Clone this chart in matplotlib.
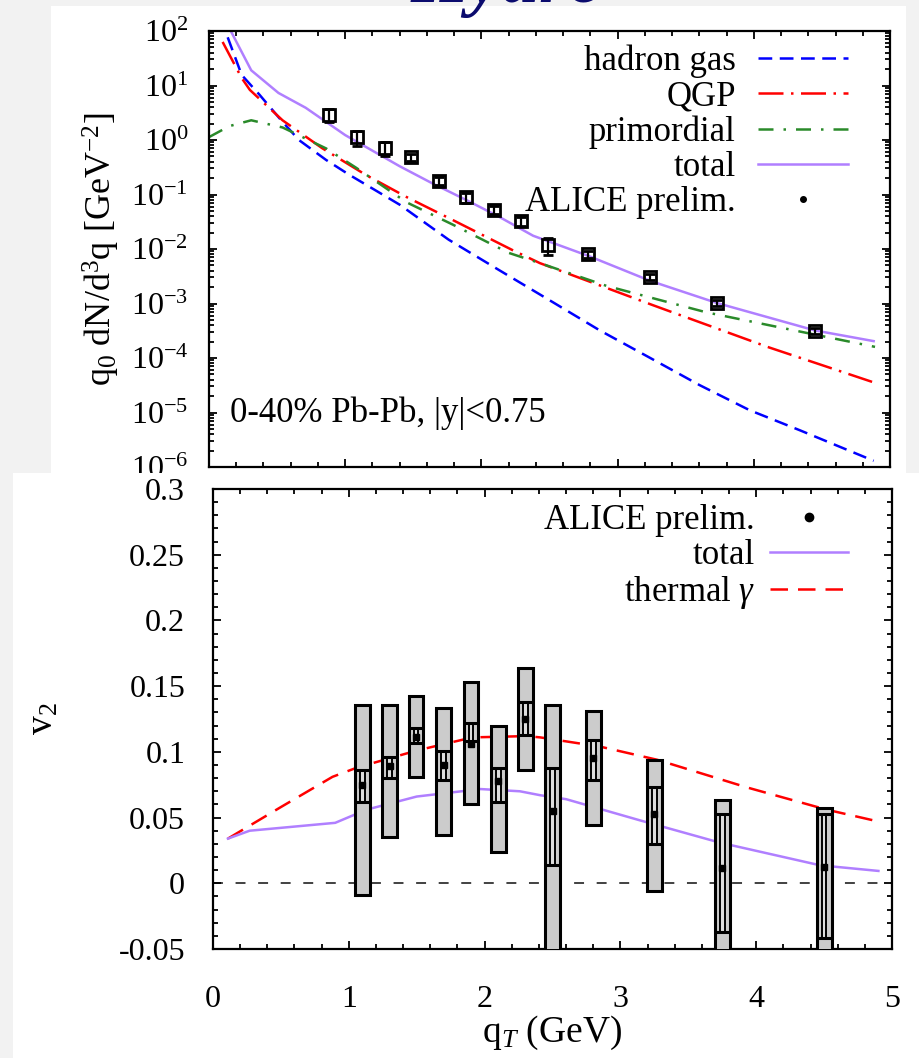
import numpy as np
import matplotlib
matplotlib.use("Agg")
import matplotlib.pyplot as plt
from matplotlib.patches import Rectangle
from matplotlib.lines import Line2D
from matplotlib.ticker import MultipleLocator, LogLocator, NullFormatter

plt.rcParams['font.family'] = ['Liberation Serif', 'DejaVu Serif']
plt.rcParams['mathtext.fontset'] = 'custom'
plt.rcParams['mathtext.rm'] = 'Liberation Serif'
plt.rcParams['mathtext.it'] = 'Liberation Serif:italic'
plt.rcParams['axes.unicode_minus'] = False

# ---- direct photon spectrum ----
alice_qt = [0.88, 1.09, 1.29, 1.48, 1.69, 1.89, 2.09, 2.29, 2.49, 2.78, 3.24, 3.73, 4.45]
alice_yield = [2.9, 1.13, 0.71, 0.49, 0.178, 0.089, 0.052, 0.032, 0.0117, 0.0081, 0.0031, 0.00102, 0.00031]
alice_yield_err = [0.8, 0.35, 0.2, 0.07, 0.03, 0.018, 0.009, 0.006, 0.004, 0.0012, 0.0004, 0.00013, 0.00004]

hadron_qt = [0.04, 0.12, 0.24, 0.37, 0.53, 0.66, 0.86, 1.03, 1.40, 1.76, 2.13, 2.50, 2.87, 3.24, 3.60, 3.97, 4.34, 4.88]
hadron_yield = [150, 100, 15.6, 6.8, 2.3, 1.0, 0.43, 0.23, 0.065, 0.0148, 0.0041, 0.00115, 3.2e-4, 1.0e-4, 3.2e-5, 1.1e-5, 4.7e-6, 1.3e-6]

qgp_qt = [0.10, 0.24, 0.30, 0.54, 0.83, 1.15, 1.45, 1.79, 2.23, 2.43, 3.26, 4.10, 4.89]
qgp_yield = [63, 13.7, 8.3, 2.3, 0.71, 0.23, 0.09, 0.034, 0.0095, 0.0055, 9.3e-4, 1.6e-4, 3.5e-5]

prim_qt = [0.0, 0.15, 0.31, 0.54, 0.86, 1.08, 1.45, 1.79, 2.20, 2.43, 2.92, 3.65, 4.30, 4.89]
prim_yield = [1.13, 1.8, 2.3, 1.7, 0.7, 0.31, 0.072, 0.028, 0.0085, 0.0055, 0.0021, 6.9e-4, 3.2e-4, 1.6e-4]

total_qt = [0.13, 0.16, 0.31, 0.51, 0.71, 1.0, 1.4, 1.64, 1.89, 2.13, 2.38, 2.79, 3.24, 3.73, 4.45, 4.88]
total_yield = [140, 100, 19, 7.3, 3.9, 1.23, 0.33, 0.16, 0.079, 0.039, 0.0175, 0.0074, 0.0026, 0.00102, 0.00032, 0.000204]

# ---- elliptic flow ----
v2_qt = [1.10, 1.30, 1.495, 1.70, 1.90, 2.10, 2.30, 2.50, 2.80, 3.25, 3.75, 4.50]
v2_val = [0.075, 0.089, 0.111, 0.090, 0.106, 0.078, 0.125, 0.055, 0.095, 0.053, 0.012, 0.0125]
v2_stat_lo = [0.062, 0.080, 0.107, 0.0785, 0.108, 0.062, 0.113, 0.014, 0.0785, 0.030, -0.037, -0.042]
v2_stat_hi = [0.086, 0.096, 0.118, 0.101, 0.122, 0.088, 0.138, 0.088, 0.109, 0.0735, 0.053, 0.053]
v2_sys_lo = [-0.009, 0.035, 0.081, 0.0367, 0.060, 0.024, 0.086, -0.07, 0.044, -0.0057, -0.07, -0.07]
v2_sys_hi = [0.136, 0.136, 0.1425, 0.133, 0.153, 0.120, 0.164, 0.136, 0.131, 0.094, 0.063, 0.057]

thermal_qt = [0.11, 0.5, 0.88, 1.06, 1.5, 1.91, 2.31, 2.41, 2.85, 3.27, 3.93, 4.52, 4.9]
thermal_v2 = [0.034, 0.058, 0.081, 0.088, 0.101, 0.111, 0.112, 0.111, 0.104, 0.094, 0.073, 0.056, 0.047]

tot_v2_qt = [0.11, 0.27, 0.9, 1.13, 1.5, 1.97, 2.26, 2.41, 2.6, 3.14, 3.73, 4.47, 4.9]
tot_v2 = [0.034, 0.040, 0.046, 0.056, 0.066, 0.0717, 0.070, 0.067, 0.064, 0.048, 0.031, 0.0137, 0.0094]

c_blue = '#0000ff'
c_red = '#ff0000'
c_green = '#2a8a2a'
c_purple = '#b07fff'

W, H = 919, 1058
fig = plt.figure(figsize=(W / 100, H / 100), dpi=100, facecolor='#f2f2f2')

# white panels behind the two plots
fig.add_artist(Rectangle((51 / W, 1 - 473 / H), 855 / W, 467 / H, transform=fig.transFigure,
                         facecolor='white', edgecolor='none', zorder=-5))
fig.add_artist(Rectangle((13 / W, 0), 1, 1 - 473 / H, transform=fig.transFigure,
                         facecolor='white', edgecolor='none', zorder=0.5))

fig.text(508 / W, 1 - 2 / H, "Hydro", ha='center', va='baseline', fontsize=54,
         style='italic', weight='bold', color='#0b0b6e', zorder=10)

ax1 = fig.add_axes([209 / W, 1 - 467 / H, 681 / W, 436 / H], zorder=0)
ax2 = fig.add_axes([213 / W, 1 - 949 / H, 679 / W, 460 / H], zorder=1)
ax1.patch.set_alpha(0)

lw = 1.8
ax1.plot(hadron_qt, hadron_yield, color=c_blue, lw=lw, ls=(0, (5.5, 3)))
ax1.plot(qgp_qt, qgp_yield, color=c_red, lw=lw, ls=(0, (10, 3, 1, 3)))
ax1.plot(prim_qt, prim_yield, color=c_green, lw=lw, ls=(0, (6, 4, 1, 4)))
ax1.plot(total_qt, total_yield, color=c_purple, lw=lw)
ax1.errorbar(alice_qt, alice_yield, yerr=alice_yield_err, fmt='s', mfc='none', mec='black',
             ms=8.5, mew=2.0, ecolor='black', elinewidth=1.6, capsize=3.5, capthick=1.6, zorder=5)

ax1.set_yscale('log')
ax1.set_xlim(0, 5)
ax1.set_ylim(1e-6, 1e2)
ax1.yaxis.set_major_locator(LogLocator(base=10, numticks=20))
ax1.yaxis.set_minor_locator(LogLocator(base=10, subs=np.arange(2, 10), numticks=20))
ax1.yaxis.set_minor_formatter(NullFormatter())
ax1.xaxis.set_major_locator(MultipleLocator(1))
ax1.xaxis.set_minor_locator(MultipleLocator(0.2))
ax1.set_xticklabels([])
ax1.set_ylabel(r"q$_0$ dN/d$^3$q [GeV$^{-2}$]", fontsize=26, labelpad=6)
ax1.text(0.031, 0.124, "0-40% Pb-Pb, |y|<0.75", transform=ax1.transAxes, fontsize=25, va='center')

top_handles = [
    Line2D([], [], color=c_blue, lw=lw, ls=(0, (5.5, 3))),
    Line2D([], [], color=c_red, lw=lw, ls=(0, (10, 3, 1, 3))),
    Line2D([], [], color=c_green, lw=lw, ls=(0, (6, 4, 1, 4))),
    Line2D([], [], color=c_purple, lw=lw),
    Line2D([], [], color='black', marker='o', ms=4, ls='none'),
]
ax1.legend(top_handles, ["hadron gas", "QGP", "primordial", "total", "ALICE prelim."],
           loc='upper right', bbox_to_anchor=(0.938, 0.968), frameon=False, fontsize=25,
           markerfirst=False, handlelength=2.6, handletextpad=0.63, labelspacing=0.06,
           borderpad=0, borderaxespad=0)

# v2 panel
ax2.axhline(0, color='#333333', lw=1.3, ls=(0, (5.5, 7)), zorder=1)
ax2.plot(thermal_qt, thermal_v2, color=c_red, lw=lw, ls=(0, (7, 4)), zorder=2)
ax2.plot(tot_v2_qt, tot_v2, color=c_purple, lw=lw, zorder=2)

q = np.array(v2_qt)
sys_lo = np.array(v2_sys_lo)
sys_hi = np.array(v2_sys_hi)
st_lo = np.array(v2_stat_lo)
st_hi = np.array(v2_stat_hi)
ax2.bar(q, sys_hi - sys_lo, bottom=sys_lo, width=0.11, facecolor='#cccccc',
        edgecolor='black', lw=2.2, zorder=3)
ax2.bar(q, st_hi - st_lo, bottom=st_lo, width=0.035, facecolor='#dddddd',
        edgecolor='black', lw=1.4, zorder=4)
ax2.hlines(st_lo, q - 0.05, q + 0.05, color='black', lw=2.2, zorder=4)
ax2.hlines(st_hi, q - 0.05, q + 0.05, color='black', lw=2.2, zorder=4)
ax2.plot(q, v2_val, 's', color='black', ms=4.5, zorder=5)

ax2.set_xlim(0, 5)
ax2.set_ylim(-0.05, 0.3)
ax2.xaxis.set_major_locator(MultipleLocator(1))
ax2.xaxis.set_minor_locator(MultipleLocator(0.2))
ax2.yaxis.set_major_locator(MultipleLocator(0.05))
ax2.yaxis.set_minor_locator(MultipleLocator(0.01))
ax2.yaxis.set_major_formatter(lambda v, p: "0" if abs(v) < 1e-9 else f"{v:g}")
ax2.set_xlabel(r"q$_T$ (GeV)", fontsize=27, labelpad=0)
ax2.set_ylabel(r"v$_2$", fontsize=27, labelpad=42)

bot_handles = [
    Line2D([], [], color='black', marker='o', ms=6, ls='none'),
    Line2D([], [], color=c_purple, lw=lw),
    Line2D([], [], color=c_red, lw=lw, ls=(0, (7, 4))),
]
ax2.legend(bot_handles, ["ALICE prelim.", "total", r"thermal $\gamma$"],
           loc='upper right', bbox_to_anchor=(0.935, 0.967), frameon=False, fontsize=25,
           markerfirst=False, handlelength=2.25, handletextpad=0.43, labelspacing=0.06,
           borderpad=0, borderaxespad=0)

for ax in (ax1, ax2):
    for s in ax.spines.values():
        s.set_linewidth(1.6)
    ax.tick_params(which='both', direction='in', top=True, right=True, width=1.3, labelsize=23)
    ax.tick_params(which='major', length=6)
    ax.tick_params(which='minor', length=3.5)
ax1.tick_params(axis='y', pad=15)
ax2.tick_params(axis='y', pad=20)
ax2.tick_params(axis='x', pad=26)

fig.savefig("out.png", dpi=100, facecolor=fig.get_facecolor())
